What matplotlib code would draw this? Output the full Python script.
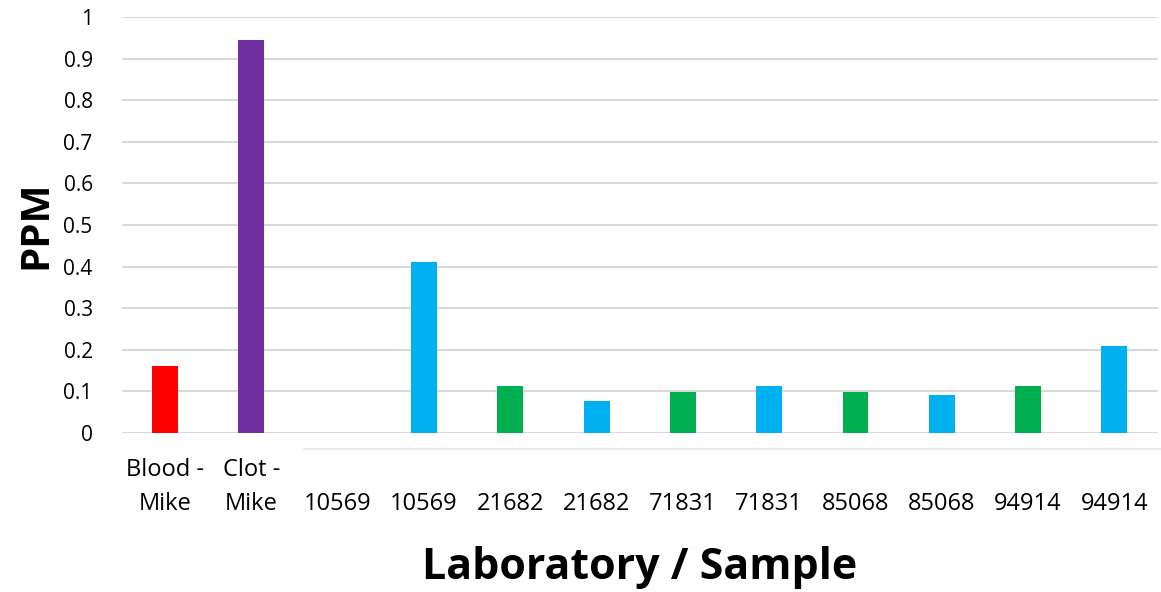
import matplotlib
matplotlib.use("Agg")
from matplotlib import pyplot as plt
from matplotlib.lines import Line2D

# データ
labels = ["Blood -\nMike", "Clot -\nMike", "10569", "10569", "21682", "21682",
          "71831", "71831", "85068", "85068", "94914", "94914"]
ppm = [0.16, 0.945, 0.0, 0.41, 0.113, 0.077, 0.098, 0.113, 0.098, 0.091, 0.113, 0.21]
colors = ["#FF0000", "#7030A0", "#00B0F0", "#00B0F0", "#00B050", "#00B0F0",
          "#00B050", "#00B0F0", "#00B050", "#00B0F0", "#00B050", "#00B0F0"]

plt.rcParams["font.family"] = ["Open Sans", "DejaVu Sans"]

fig = plt.figure(figsize=(11.61, 5.92), dpi=100)
ax = fig.add_axes([0.105, 0.2686, 0.892, 0.7027])

x = range(len(labels))
ax.bar(x, ppm, width=0.30, color=colors, zorder=3)

ax.set_xlim(-0.5, len(labels) - 0.5)
ax.set_ylim(0, 1)
ax.set_yticks([i / 10 for i in range(11)])
ax.set_yticklabels(["0", "0.1", "0.2", "0.3", "0.4", "0.5", "0.6", "0.7", "0.8", "0.9", "1"],
                   fontsize=15)
ax.grid(axis="y", color="#d9d9d9", lw=1.5, zorder=0)
ax.set_axisbelow(True)

# 数字だけのラベルは2行目に揃える
tick_text = [lab if "\n" in lab else "\n" + lab for lab in labels]
ax.set_xticks(list(x))
ax.set_xticklabels(tick_text, fontsize=17, linespacing=1.55)
ax.tick_params(axis="both", length=0)
ax.tick_params(axis="x", pad=18)
ax.tick_params(axis="y", pad=21)

for s in ax.spines.values():
    s.set_visible(False)

ax.set_ylabel("PPM", fontsize=29, fontweight="bold", labelpad=6)
ax.set_xlabel("Laboratory / Sample", fontsize=31, fontweight="bold", labelpad=22)

# 下の薄い線
fig.add_artist(Line2D([0.262, 1.0], [0.241, 0.241], color="#e6e6e6", lw=1.2))

fig.savefig("out.png", dpi=100)
